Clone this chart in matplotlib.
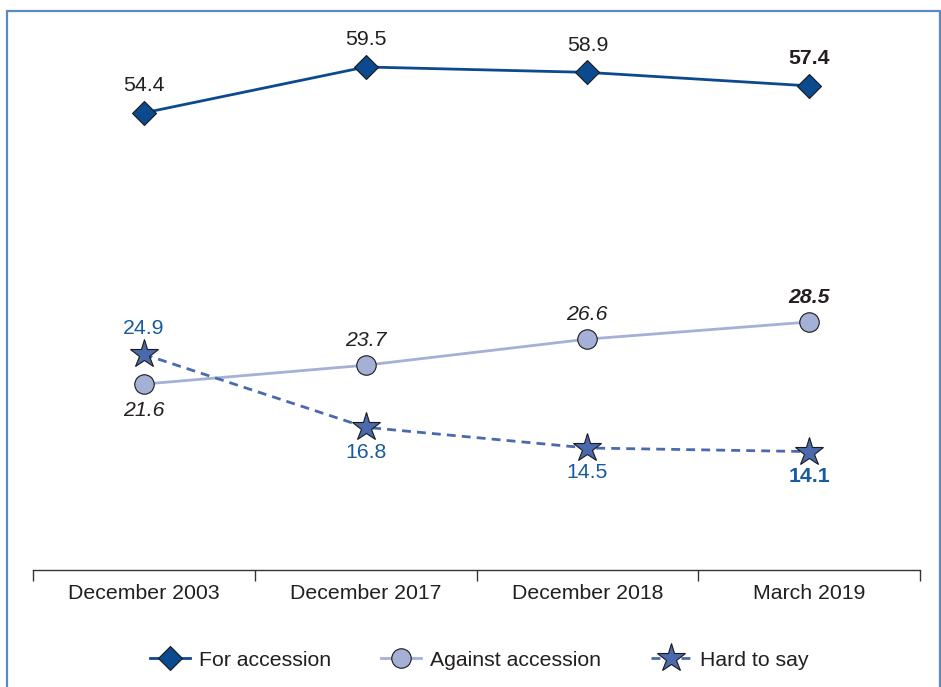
import matplotlib
matplotlib.use('Agg')
import matplotlib.pyplot as plt
from matplotlib.patches import Rectangle
import numpy as np

plt.rcParams['font.family'] = ['Liberation Sans', 'DejaVu Sans']

categories = ['December 2003', 'December 2017', 'December 2018', 'March 2019']
for_accession = [54.4, 59.5, 58.9, 57.4]
against_accession = [21.6, 23.7, 26.6, 28.5]
hard_to_say = [24.9, 16.8, 14.5, 14.1]

dark_blue = '#0b4a8f'
lavender = '#a4b0d6'
star_blue = '#4a6aad'
text_dark = '#231f20'
text_blue = '#1a5a9e'

W, H = 941, 687
fig = plt.figure(figsize=(W / 100, H / 100), dpi=100)

x = np.arange(len(categories))
left = 33 / W
width = 887 / W

# broken vertical scale: upper panel for "for accession", lower panel for the rest
ax_top = fig.add_axes([left, (H - 200) / H, width, 200 / H])
ax_bot = fig.add_axes([left, (H - 570) / H, width, 370 / H], sharex=ax_top)

ax_top.set_ylim(44.72, 66.94)
ax_bot.set_ylim(0.94, 42.06)
ax_bot.set_xlim(-0.5, 3.5)

for ax in (ax_top, ax_bot):
    ax.patch.set_alpha(0)
    for s in ax.spines.values():
        s.set_visible(False)
    ax.set_yticks([])
ax_top.tick_params(axis='x', which='both', length=0, labelbottom=False)

ax_bot.spines['bottom'].set_visible(True)
ax_bot.spines['bottom'].set_color('#333333')
ax_bot.spines['bottom'].set_linewidth(1.0)
ax_bot.set_xticks(x)
ax_bot.set_xticklabels(categories, fontsize=15.3, color=text_dark)
ax_bot.set_xticks(np.arange(-0.5, 4, 1), minor=True)
ax_bot.tick_params(axis='x', which='major', length=0, pad=10)
ax_bot.tick_params(axis='x', which='minor', length=8, width=1.0, color='#333333', direction='out')

ln1, = ax_top.plot(x, for_accession, color=dark_blue, lw=2.0, marker='D', markersize=12,
                   markerfacecolor=dark_blue, markeredgecolor='#1a1a1a', markeredgewidth=0.8,
                   label='For accession', clip_on=False)
ln2, = ax_bot.plot(x, against_accession, color=lavender, lw=2.0, marker='o', markersize=14,
                   markerfacecolor=lavender, markeredgecolor='#1a1a1a', markeredgewidth=0.8,
                   label='Against accession', clip_on=False)
ln3, = ax_bot.plot(x, hard_to_say, color=star_blue, lw=2.0, ls=(0, (3.2, 2.2)), marker='*',
                   markersize=21, markerfacecolor=star_blue, markeredgecolor='#1a1a1a',
                   markeredgewidth=0.8, label='Hard to say', clip_on=False, zorder=3)

# value labels
for i, v in enumerate(for_accession):
    last = i == len(for_accession) - 1
    ax_top.annotate(f'{v}', (i, v), xytext=(0, 19.5), textcoords='offset points',
                    ha='center', va='center', fontsize=15.3, color=text_dark,
                    fontweight='bold' if last else 'normal')

for i, v in enumerate(against_accession):
    last = i == len(against_accession) - 1
    dy = -19 if i == 0 else 18
    ax_bot.annotate(f'{v}', (i, v), xytext=(0, dy), textcoords='offset points',
                    ha='center', va='center', fontsize=15.3, color=text_dark, style='italic',
                    fontweight='bold' if last else 'normal')

for i, v in enumerate(hard_to_say):
    last = i == len(hard_to_say) - 1
    dy = 19 if i == 0 else -18
    ax_bot.annotate(f'{v}', (i, v), xytext=(0, dy), textcoords='offset points',
                    ha='center', va='center', fontsize=15.3, color=text_blue,
                    fontweight='bold' if last else 'normal')

leg = fig.legend(handles=[ln1, ln2, ln3], loc='center', bbox_to_anchor=(479 / W, 1 - 660 / H),
                 ncol=3, frameon=False, fontsize=15.3, handlelength=1.9, handletextpad=0.4,
                 columnspacing=2.35, labelcolor=text_dark)

# outer frame
fig.patches.append(Rectangle((7 / W, -0.1), (940 - 7) / W, (H - 11) / H + 0.1,
                             transform=fig.transFigure, fill=False,
                             edgecolor='#5b89c2', linewidth=1.6, clip_on=False))

fig.savefig('out.png', dpi=100)
